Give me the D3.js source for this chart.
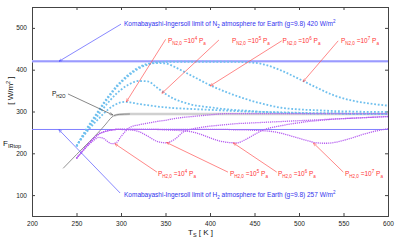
<!DOCTYPE html>
<html>
<head>
<meta charset="utf-8">
<script src="https://cdn.jsdelivr.net/npm/d3@7"></script>
<style>
	body { margin: 0; background: #fff; }
	text { font-family: "Liberation Sans", Arial, sans-serif; }
</style>
</head>
<body>
<div id="chart"></div>
<script>
// N2 atmospheres, surface pressure 1e4 .. 1e7 Pa
const n2T = [250, 255, 260, 265, 270, 275, 280, 285, 290, 295, 300, 305, 310, 315, 320, 330, 340, 350, 360, 370, 380, 400, 420, 440, 460, 480, 500, 520, 540, 560, 580, 600]
const n2F4 = [217, 233, 247, 260, 272, 283, 294, 304, 312, 318, 322, 323, 322, 320, 318, 315, 312, 310, 308, 307, 306, 304, 302, 300, 299, 298, 297, 296, 296, 295, 295, 294]
const n2F5 = [217, 234, 250, 265, 279, 293, 307, 320, 332, 343, 352, 360, 366, 371, 373, 372, 358, 342, 330, 322, 316, 310, 305, 302, 299, 297, 296, 295, 295, 294, 294, 294]
const n2F6 = [217, 235, 252, 268, 284, 300, 316, 331, 345, 358, 369, 379, 388, 396, 403, 412, 416, 415, 407, 396, 385, 363, 345, 330, 318, 309, 305, 303, 301, 300, 299, 299]
const n2F7 = [217, 236, 254, 271, 287, 303, 319, 334, 348, 361, 372, 382, 391, 399, 406, 414, 418, 419, 419, 419, 419, 419, 419, 418, 413, 398, 378, 357, 338, 326, 319, 314]

// H2 atmospheres
const h2T = [250, 255, 260, 265, 270, 275, 280, 285, 290, 295, 300, 310, 320, 330, 340, 350, 360, 370, 380, 390, 400, 410, 420, 430, 440, 450, 460, 470, 480, 490, 500, 510, 520, 530, 540, 550, 560, 570, 580, 590, 600]
const h2F4 = [188, 200, 212, 223, 232, 238, 236, 228, 223, 226, 240, 262, 268, 272, 276, 279, 283, 286, 288, 290, 292, 294, 295, 295, 295, 295, 295, 295, 295, 295, 295, 295, 295, 295, 295, 295, 295, 295, 295, 295, 295]
const h2F5 = [188, 201, 214, 226, 237, 246, 251, 254, 256, 257, 257, 256, 252, 241, 229, 225, 233, 251, 258, 262, 265, 267, 269, 271, 272, 273, 274, 275, 276, 277, 278, 279, 280, 281, 282, 283, 284, 285, 286, 287, 288]
const h2F6 = [188, 201, 214, 226, 237, 246, 251, 254, 256, 257, 257, 257, 257, 257, 257, 256, 255, 254, 251, 245, 237, 230, 226, 225, 233, 245, 256, 262, 266, 270, 273, 276, 278, 280, 282, 283, 284, 285, 286, 287, 288]
const h2F7 = [188, 201, 214, 226, 237, 246, 251, 254, 256, 257, 257, 257, 257, 257, 257, 257, 257, 257, 257, 257, 257, 257, 257, 256, 256, 255, 254, 252, 248, 242, 236, 230, 225, 224, 226, 231, 237, 244, 250, 255, 259]

// pure water vapour
const h2oT = [235, 250, 265, 275, 283, 288, 292, 298, 310, 600]
const h2oF = [164, 197, 229, 251, 270, 283, 290, 293, 294, 294]

const kiN2 = 420
const kiH2 = 257
const xTicks = [200, 250, 300, 350, 400, 450, 500, 550, 600]
const yTicks = [100, 200, 300, 400, 500]

// annotations: [pressure exponent, text T, text F, tail T, tail F, tip T, tip F]
const n2Notes = [
	[4, 352.8, 464, 350.2, 472.7, 306, 323],
	[5, 424.7, 464, 410, 471, 345.7, 343],
	[6, 481.5, 464, 480.6, 469, 400, 361],
	[7, 547.2, 464, 544, 469, 504.5, 371]
]
const h2Notes = [
	[4, 341.6, 146, 340.4, 155, 293, 223],
	[5, 422.5, 146, 420.2, 155, 351, 226],
	[6, 476.4, 146, 475, 155, 426, 225],
	[7, 551.7, 146, 549.8, 155, 516, 225]
]

const width = 400
const height = 244
const margin = { top: 7, right: 12, bottom: 28, left: 32 }

const svg = d3.select("#chart").append("svg")
	.attr("width", width)
	.attr("height", height)

const x = d3.scaleLinear().domain([200, 600]).range([margin.left, width - margin.right])
const y = d3.scaleLinear().domain([50, 550]).range([height - margin.bottom, margin.top])

// axes, MATLAB style ticks pointing inward
const axisColor = "#444"
svg.append("g")
	.attr("transform", `translate(0,${height - margin.bottom})`)
	.call(d3.axisBottom(x).tickValues(xTicks).tickSize(-3).tickPadding(5))
svg.append("g")
	.attr("transform", `translate(${margin.left},0)`)
	.call(d3.axisLeft(y).tickValues(yTicks).tickSize(-3).tickPadding(5))
svg.append("g")
	.attr("transform", `translate(0,${margin.top})`)
	.call(d3.axisTop(x).tickValues(xTicks).tickSize(-3).tickFormat(""))
svg.append("g")
	.attr("transform", `translate(${width - margin.right},0)`)
	.call(d3.axisRight(y).tickValues(yTicks).tickSize(-3).tickFormat(""))
svg.selectAll(".domain").attr("stroke", axisColor)
svg.selectAll(".tick line").attr("stroke", axisColor)
svg.selectAll(".tick text").attr("font-size", 6.5).attr("fill", "#222")

const line = d3.line()
	.x(d => x(d[0]))
	.y(d => y(d[1]))
	.curve(d3.curveMonotoneX)
const zipped = (ts, fs) => ts.map((t, i) => [t, fs[i]])

// KI limits
svg.append("line")
	.attr("x1", x(200)).attr("x2", x(600))
	.attr("y1", y(kiN2)).attr("y2", y(kiN2))
	.attr("stroke", "#b8b8ff").attr("stroke-width", 2.5)
svg.append("line")
	.attr("x1", x(200)).attr("x2", x(600))
	.attr("y1", y(kiN2)).attr("y2", y(kiN2))
	.attr("stroke", "#8a8aff").attr("stroke-width", 0.8)
svg.append("line")
	.attr("x1", x(200)).attr("x2", x(600))
	.attr("y1", y(kiH2)).attr("y2", y(kiH2))
	.attr("stroke", "#8080ff").attr("stroke-width", 1)

// water vapour curve
svg.append("path")
	.attr("d", line(zipped(h2oT, h2oF).filter(d => d[0] >= 290)))
	.attr("fill", "none").attr("stroke", "#d0d0d0").attr("stroke-width", 2.5)
svg.append("path")
	.attr("d", line(zipped(h2oT, h2oF).filter(d => d[0] <= 310)))
	.attr("fill", "none").attr("stroke", "#777").attr("stroke-width", 0.8)

// N2 curves
for (const fs of [n2F4, n2F5, n2F6, n2F7]) {
	svg.append("path")
		.attr("d", line(zipped(n2T, fs)))
		.attr("fill", "none")
		.attr("stroke", "#70c0ee")
		.attr("stroke-width", 1.8)
		.attr("stroke-dasharray", "1.8 1.8")
}

// H2 curves
for (const fs of [h2F4, h2F5, h2F6, h2F7]) {
	svg.append("path")
		.attr("d", line(zipped(h2T, fs)))
		.attr("fill", "none")
		.attr("stroke", "#b65ef0")
		.attr("stroke-width", 1.3)
		.attr("stroke-dasharray", "1.2 0.9")
}

// arrows
const defs = svg.append("defs")
function marker(id, color) {
	defs.append("marker")
		.attr("id", id)
		.attr("viewBox", "0 0 10 10")
		.attr("refX", 10).attr("refY", 5)
		.attr("markerWidth", 5).attr("markerHeight", 5)
		.attr("orient", "auto")
		.append("path")
		.attr("d", "M0,1 L10,5 L0,9")
		.attr("fill", "none")
		.attr("stroke", color)
		.attr("stroke-width", 1.2)
}
marker("arrRed", "#ff4444")
marker("arrBlue", "#4444ff")
marker("arrGray", "#555")

function arrow(t0, f0, t1, f1, color, id) {
	svg.append("line")
		.attr("x1", x(t0)).attr("y1", y(f0))
		.attr("x2", x(t1)).attr("y2", y(f1))
		.attr("stroke", color).attr("stroke-width", 0.7)
		.attr("marker-end", `url(#${id})`)
}

function pressureLabel(gas, exp, t, f) {
	const txt = svg.append("text")
		.attr("x", x(t)).attr("y", y(f))
		.attr("font-size", 6.5)
		.attr("fill", "#ff3333")
	txt.append("tspan").text("P")
	txt.append("tspan").attr("font-size", 4.5).attr("dy", 1.8).text(gas + ",0")
	txt.append("tspan").attr("dy", -1.8).text(" =10")
	txt.append("tspan").attr("font-size", 4.5).attr("dy", -2.8).text(exp)
	txt.append("tspan").attr("dy", 2.8).text(" P")
	txt.append("tspan").attr("font-size", 4.5).attr("dy", 1.8).text("a")
}

for (const [exp, tt, tf, t0, f0, t1, f1] of n2Notes) {
	arrow(t0, f0, t1, f1, "#ff5555", "arrRed")
	pressureLabel("N2", exp, tt, tf)
}
for (const [exp, tt, tf, t0, f0, t1, f1] of h2Notes) {
	arrow(t0, f0, t1, f1, "#ff5555", "arrRed")
	pressureLabel("H2", exp, tt, tf)
}

// KI annotations
arrow(300, 509, 230.3, kiN2, "#5555ff", "arrBlue")
arrow(299, 105, 230, kiH2, "#5555ff", "arrBlue")

function kiLabel(gas, value, f) {
	const txt = svg.append("text")
		.attr("x", x(303.4)).attr("y", y(f))
		.attr("font-size", 6.5)
		.attr("fill", "#3333ee")
	txt.append("tspan").text("Komabayashi-Ingersoll limit of " + gas[0])
	txt.append("tspan").attr("font-size", 4.5).attr("dy", 1.8).text(gas[1])
	txt.append("tspan").attr("dy", -1.8).text(" atmosphere for Earth (g=9.8) " + value + " W/m")
	txt.append("tspan").attr("font-size", 4.5).attr("dy", -2.8).text("2")
}
kiLabel("N2", kiN2, 504.5)
kiLabel("H2", kiH2, 95.5)

// water vapour label
arrow(240.4, 342, 291, 291.6, "#555", "arrGray")
const h2oLabel = svg.append("text")
	.attr("x", x(222.5)).attr("y", y(337))
	.attr("font-size", 6.5).attr("fill", "#111")
h2oLabel.append("tspan").text("P")
h2oLabel.append("tspan").attr("font-size", 4.5).attr("dy", 1.8).text("H2O")

// axis labels
const yl = svg.append("text")
	.attr("transform", `translate(13,${y(350)}) rotate(-90)`)
	.attr("text-anchor", "middle")
	.attr("font-size", 8).attr("fill", "#111")
yl.append("tspan").text("[ W/m")
yl.append("tspan").attr("font-size", 5.5).attr("dy", -3).text("2")
yl.append("tspan").attr("dy", 3).text(" ]")

const yl2 = svg.append("text")
	.attr("x", 3).attr("y", 146)
	.attr("font-size", 8).attr("fill", "#111")
yl2.append("tspan").text("F")
yl2.append("tspan").attr("font-size", 5.5).attr("dy", 2).text("IRtop")

const xl = svg.append("text")
	.attr("x", 188).attr("y", 235)
	.attr("font-size", 8).attr("fill", "#111")
xl.append("tspan").text("T")
xl.append("tspan").attr("font-size", 5.5).attr("dy", 2).text("S")
xl.append("tspan").attr("dy", -2).text("  [ K ]")
</script>
</body>
</html>
